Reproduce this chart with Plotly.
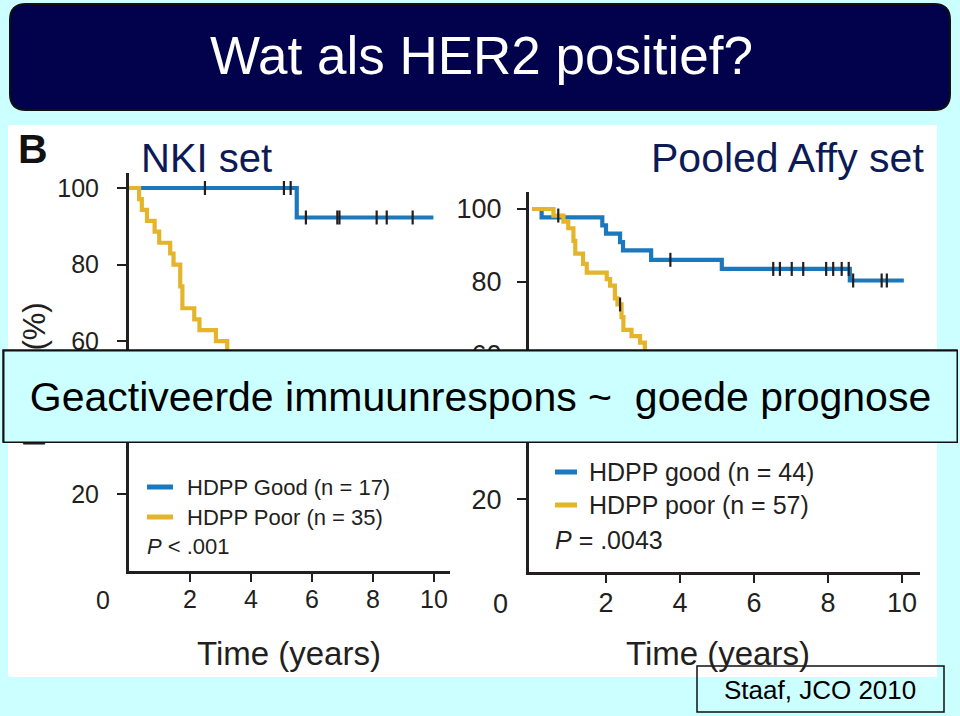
import plotly.graph_objects as go

W, H = 960, 716

# ---------------- data ----------------
nki_good_t = [0, 5.50, 9.98]
nki_good_s = [100, 92.3, 92.3]
nki_good_cens_t = [2.49, 5.08, 5.30, 5.80, 6.83, 6.90, 8.12, 8.45, 9.30]
nki_good_cens_s = [100, 100, 100, 92.3, 92.3, 92.3, 92.3, 92.3, 92.3]

nki_poor_t = [0, 0.33, 0.42, 0.59, 0.84, 0.99, 1.35, 1.46, 1.68, 1.75, 2.14, 2.31,
              2.85, 3.22, 3.60, 4.00, 4.60, 5.30, 6.20, 7.50, 8.80]
nki_poor_s = [100, 97.1, 94.3, 91.4, 88.6, 85.7, 82.9, 80.0, 74.3, 68.6, 65.7, 62.9,
              60.0, 57.1, 54.3, 51.4, 48.6, 45.7, 42.9, 40.0, 40.0]

affy_good_t = [0, 0.26, 1.90, 2.00, 2.38, 2.46, 3.22, 5.13, 8.59, 10.05]
affy_good_s = [100, 97.7, 95.5, 93.2, 90.9, 88.6, 86.0, 83.5, 80.3, 80.3]
affy_good_cens_t = [3.74, 6.52, 6.70, 7.02, 7.33, 7.95, 8.14, 8.37, 8.56, 8.68, 9.45, 9.59]
affy_good_cens_s = [86.0, 83.5, 83.5, 83.5, 83.5, 83.5, 83.5, 83.5, 83.5, 80.3, 80.3, 80.3]

affy_poor_t = [0, 0.58, 0.85, 0.98, 1.12, 1.17, 1.38, 1.48, 2.02, 2.11, 2.24, 2.31, 2.42,
               2.47, 2.69, 2.92, 3.05, 3.40, 3.80, 4.30, 5.00, 6.10, 8.20]
affy_poor_s = [100, 98.2, 96.5, 94.7, 91.2, 87.7, 84.9, 82.5, 80.7, 78.9, 75.4, 73.7, 70.2,
               66.7, 65.0, 63.2, 59.7, 56.1, 52.6, 49.1, 45.6, 42.1, 42.1]
affy_poor_cens_t = [0.71, 2.38]
affy_poor_cens_s = [98.2, 73.7]

x_ticks = [2, 4, 6, 8, 10]
y_ticks = [20, 40, 60, 80, 100]

left_legend = ["HDPP Good (n = 17)", "HDPP Poor (n = 35)"]
right_legend = ["HDPP good (n = 44)", "HDPP poor (n = 57)"]
left_p = "<i>P</i> < .001"
right_p = "<i>P</i> = .0043"
y_title = "DMFS (%)"
x_title = "Time (years)"

title_text = "Wat als HER2 positief?"
overlay_text = "Geactiveerde immuunrespons ~  goede prognose"
cite_text = "Staaf, JCO 2010"

# ---------------- style ----------------
BLUE = "#1b78bd"
YELLOW = "#e4b52a"
INK = "#231f20"
NAVY = "#0c1a56"
CYAN = "#ccffff"
SANS = "Liberation Sans, Arial, sans-serif"


def X(px):
    return px / W


def Y(py):
    return 1 - py / H


fig = go.Figure()


def km(t, s, color, xa, ya):
    fig.add_trace(go.Scatter(x=t, y=s, mode="lines", line=dict(color=color, width=4.2, shape="hv"),
                             xaxis=xa, yaxis=ya, showlegend=False, hoverinfo="skip"))


def cens(t, s, xa, ya):
    fig.add_trace(go.Scatter(x=t, y=s, mode="markers", cliponaxis=False,
                             marker=dict(symbol="line-ns-open", size=10, color=INK,
                                         line=dict(color=INK, width=2.2)),
                             xaxis=xa, yaxis=ya, showlegend=False, hoverinfo="skip"))


km(nki_good_t, nki_good_s, BLUE, "x", "y")
km(nki_poor_t, nki_poor_s, YELLOW, "x", "y")
cens(nki_good_cens_t, nki_good_cens_s, "x", "y")

km(affy_good_t, affy_good_s, BLUE, "x2", "y2")
km(affy_poor_t, affy_poor_s, YELLOW, "x2", "y2")
cens(affy_good_cens_t, affy_good_cens_s, "x2", "y2")
cens(affy_poor_cens_t, affy_poor_cens_s, "x2", "y2")

axis_common = dict(showgrid=False, zeroline=False, showline=True, linecolor=INK, linewidth=3,
                   ticks="outside", tickcolor=INK, tickwidth=2, fixedrange=True)

fig.update_layout(
    width=W, height=H,
    margin=dict(l=0, r=0, t=0, b=0),
    paper_bgcolor=CYAN,
    plot_bgcolor="rgba(0,0,0,0)",
    showlegend=False,
    xaxis=dict(domain=[X(129), X(450)], range=[0, (450 - 129) / 30.5], anchor="y",
               tickvals=x_ticks, ticklen=8, ticklabelstandoff=-4,
               tickfont=dict(family=SANS, size=25, color=INK), **axis_common),
    yaxis=dict(domain=[Y(571), Y(173)], range=[0, (571 - 173) / 3.83], anchor="x",
               tickvals=y_ticks, ticklen=9, ticklabelstandoff=13,
               tickfont=dict(family=SANS, size=25, color=INK), **axis_common),
    xaxis2=dict(domain=[X(529), X(920)], range=[(529 - 532) / 37, (920 - 532) / 37], anchor="y2",
                tickvals=x_ticks, ticklen=8, ticklabelstandoff=-3,
                tickfont=dict(family=SANS, size=27, color=INK), **axis_common),
    yaxis2=dict(domain=[Y(572), Y(192)], range=[0, (572 - 192) / 3.63], anchor="x2",
                tickvals=y_ticks, ticklen=9, ticklabelstandoff=10,
                tickfont=dict(family=SANS, size=27, color=INK), **axis_common),
)

shapes = []
# white figure area
shapes.append(dict(type="rect", xref="paper", yref="paper", layer="below",
                   x0=X(8), x1=X(937), y0=Y(677), y1=Y(125),
                   fillcolor="white", line=dict(width=0)))

# rounded title box
x0, x1, y0, y1, r = 10, 950, 4, 110, 16
path = (f"M {X(x0 + r)},{Y(y0)} L {X(x1 - r)},{Y(y0)} Q {X(x1)},{Y(y0)} {X(x1)},{Y(y0 + r)} "
        f"L {X(x1)},{Y(y1 - r)} Q {X(x1)},{Y(y1)} {X(x1 - r)},{Y(y1)} "
        f"L {X(x0 + r)},{Y(y1)} Q {X(x0)},{Y(y1)} {X(x0)},{Y(y1 - r)} "
        f"L {X(x0)},{Y(y0 + r)} Q {X(x0)},{Y(y0)} {X(x0 + r)},{Y(y0)} Z")
shapes.append(dict(type="path", xref="paper", yref="paper", path=path, layer="above",
                   fillcolor="#02024c", line=dict(color="#111111", width=2)))

# legend sample lines
for (lx0, lx1, ly, col, w) in [(147, 173, 487, BLUE, 5), (147, 173, 517, YELLOW, 5),
                               (555, 577, 472, BLUE, 5), (555, 577, 505, YELLOW, 5)]:
    shapes.append(dict(type="line", xref="paper", yref="paper",
                       x0=X(lx0), x1=X(lx1), y0=Y(ly), y1=Y(ly),
                       line=dict(color=col, width=w)))

# overlay box (covers the curves and ticks)
shapes.append(dict(type="rect", xref="paper", yref="paper", layer="above",
                   x0=X(3), x1=X(957), y0=Y(442), y1=Y(350),
                   fillcolor=CYAN, line=dict(color="#111111", width=1.5)))
# citation box
shapes.append(dict(type="rect", xref="paper", yref="paper", layer="above",
                   x0=X(697), x1=X(944), y0=Y(712), y1=Y(666),
                   fillcolor="rgba(0,0,0,0)", line=dict(color="#111111", width=1.5)))

fig.update_layout(shapes=shapes)


def ann(text, px, py, size, color=INK, family=SANS, xanchor="center", yanchor="middle",
        angle=0, **kw):
    fig.add_annotation(text=text, x=X(px), y=Y(py), xref="paper", yref="paper",
                       showarrow=False, xanchor=xanchor, yanchor=yanchor, textangle=angle,
                       font=dict(size=size, color=color, family=family), **kw)


ann(title_text, 481, 55, 53, color="white")
ann("<b>B</b>", 33, 149, 41, color="#111111")
ann("NKI set", 206, 158, 40, color=NAVY)
ann("Pooled Affy set", 787, 158, 41, color=NAVY)

# y-axis title (partly hidden by the overlay box drawn after it)
ann(y_title, 34, 375, 31, angle=-90)

ann("0", 103, 600, 25)
ann("0", 500, 604, 27)
ann(x_title, 289, 653, 33)
ann(x_title, 718, 653, 33)

ann(left_legend[0], 185, 487, 22, xanchor="left")
ann(left_legend[1], 185, 517, 22, xanchor="left")
ann(left_p, 145, 546, 22, xanchor="left")
ann(right_legend[0], 587, 472, 25, xanchor="left")
ann(right_legend[1], 587, 505, 25, xanchor="left")
ann(right_p, 553, 540, 25, xanchor="left")

# overlay text box (drawn last so it covers the y-axis title)
fig.add_annotation(text=overlay_text, x=X(3), y=Y(350), xref="paper", yref="paper",
                   showarrow=False, xanchor="left", yanchor="top",
                   width=950, height=88, borderpad=1, borderwidth=1.5,
                   bgcolor=CYAN, bordercolor="#111111", align="center", valign="middle",
                   font=dict(size=41, color="black", family=SANS))
ann(cite_text, 820, 690, 26, color="black")

fig.write_html("out.html", config={"displayModeBar": False, "staticPlot": True},
               post_script="document.body.style.margin='0';document.body.style.overflow='hidden';")
